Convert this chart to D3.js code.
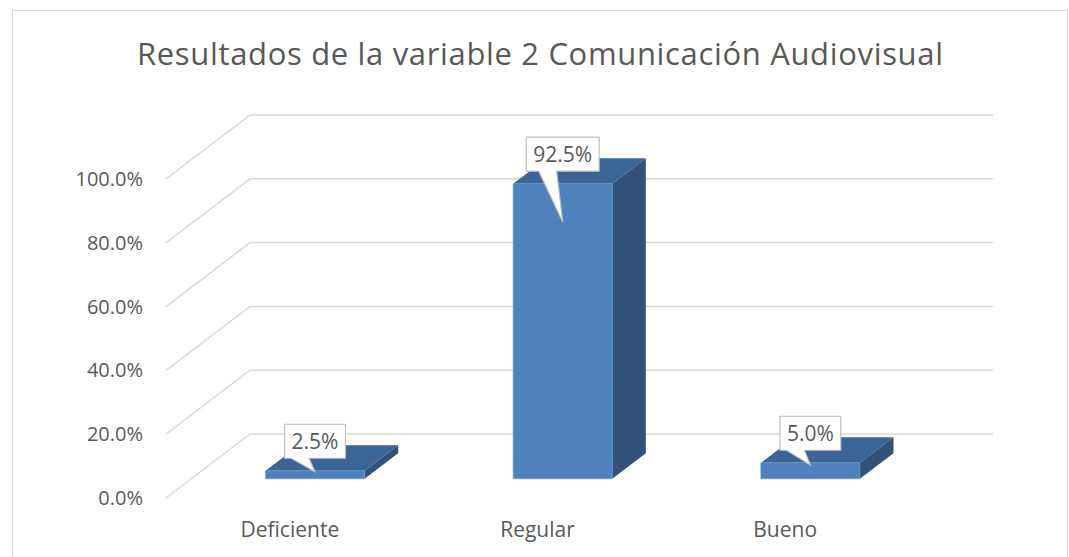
<!DOCTYPE html>
<html>
<head>
<meta charset="utf-8">
<script src="https://cdn.jsdelivr.net/npm/d3@7"></script>
<style>
  body { margin: 0; background: #fff; }
  svg { display: block; font-family: "Open Sans", sans-serif; }
</style>
</head>
<body>
<div id="chart"></div>
<script>
// chart data
const categories = ['Deficiente', 'Regular', 'Bueno'];
const values = [2.5, 92.5, 5.0];
const yTicks = [0, 20, 40, 60, 80, 100];
const title = 'Resultados de la variable 2 Comunicación Audiovisual';

const width = 1069;
const height = 557;

const textColor = '#595959';
const gridColor = '#d9d9d9';

// depth of the 3d floor (back wall -> front edge)
const depthX = -84;
const depthY = 64;
// bars sit between these depth fractions (0 = front, 1 = back)
const zFront = 0.3;
const zBack = 0.7;

const svg = d3.select('#chart')
    .append('svg')
    .attr('width', width)
    .attr('height', height);

// chart frame
svg.append('rect')
    .attr('x', 12.5)
    .attr('y', 10.5)
    .attr('width', 1055)
    .attr('height', 600)
    .attr('fill', '#fff')
    .attr('stroke', gridColor)
    .attr('stroke-width', 1);

svg.append('text')
    .attr('x', 540)
    .attr('y', 65)
    .attr('text-anchor', 'middle')
    .attr('fill', textColor)
    .attr('textLength', 806)
    .attr('lengthAdjust', 'spacing')
    .style('font-size', '31px')
    .text(title);

// scales on the back wall
const x = d3.scaleBand().domain(categories).range([250, 993]);
const y = d3.scaleLinear().domain([0, 100]).range([434, 115]);

// project a point of the back wall plane forward to depth z
function project(xb, v, z) {
    return [xb + (1 - z) * depthX, y(v) + (1 - z) * depthY];
}

// gridlines: diagonal on the side wall + horizontal on the back wall
const grid = svg.append('g').attr('class', 'grid');
yTicks.forEach(t => {
    const front = project(x.range()[0], t, 0);
    grid.append('polyline')
        .attr('points', [front, [x.range()[0], y(t)], [x.range()[1], y(t)]].map(p => p.join(',')).join(' '))
        .attr('fill', 'none')
        .attr('stroke', gridColor)
        .attr('stroke-width', 1.5);

    grid.append('text')
        .attr('x', 143)
        .attr('y', front[1])
        .attr('dy', '0.35em')
        .attr('text-anchor', 'end')
        .attr('fill', textColor)
        .style('font-size', '20px')
        .text(d3.format('.1f')(t) + '%');
});

// category labels at the front edge of the floor
svg.append('g').selectAll('text')
    .data(categories)
    .enter()
    .append('text')
    .attr('x', d => project(x(d) + x.bandwidth() / 2, 0, 0)[0])
    .attr('y', 537)
    .attr('text-anchor', 'middle')
    .attr('fill', textColor)
    .style('font-size', '21px')
    .text(d => d);

// 3d bars
const barW = x.bandwidth() * 0.4;
const poly = pts => pts.map(p => p.join(',')).join(' ');

const bars = svg.append('g').attr('class', 'bars');
categories.forEach((c, i) => {
    const v = values[i];
    const cx = x(c) + x.bandwidth() / 2;
    const x0 = cx - barW / 2;
    const x1 = cx + barW / 2;
    const g = bars.append('g');

    // top
    g.append('polygon')
        .attr('points', poly([project(x0, v, zFront), project(x1, v, zFront), project(x1, v, zBack), project(x0, v, zBack)]))
        .attr('fill', '#3b6497');
    // side
    g.append('polygon')
        .attr('points', poly([project(x1, 0, zFront), project(x1, v, zFront), project(x1, v, zBack), project(x1, 0, zBack)]))
        .attr('fill', '#32527c');
    // front
    g.append('polygon')
        .attr('points', poly([project(x0, 0, zFront), project(x0, v, zFront), project(x1, v, zFront), project(x1, 0, zFront)]))
        .attr('fill', '#4f81bd')
        .attr('stroke', '#6f97c9')
        .attr('stroke-width', 0.6);
});

// callout data labels
const labels = svg.append('g').attr('class', 'labels');
categories.forEach((c, i) => {
    const v = values[i];
    const cx = x(c) + x.bandwidth() / 2;
    const front = project(cx, v, zFront);
    const backTop = project(cx, v, zBack)[1];
    const frontH = project(cx, 0, zFront)[1] - front[1];

    const txt = labels.append('text')
        .attr('x', front[0])
        .attr('text-anchor', 'middle')
        .attr('fill', textColor)
        .style('font-size', '21px')
        .text(d3.format('.1f')(v) + '%');
    const tw = txt.node().getComputedTextLength();

    const bw = tw + 14;
    const bh = 34;
    const bx = front[0] - bw / 2;
    const by = backTop - 21;
    const tipX = front[0];
    const tipY = front[1] + frontH * 0.13;
    const bb = by + bh;

    const path = d3.path();
    path.moveTo(bx, by);
    path.lineTo(bx + bw, by);
    path.lineTo(bx + bw, bb);
    path.lineTo(front[0] - 6, bb);
    path.lineTo(tipX, Math.max(tipY, bb + 10));
    path.lineTo(front[0] - 24, bb);
    path.lineTo(bx, bb);
    path.closePath();

    labels.insert('path', () => txt.node())
        .attr('d', path.toString())
        .attr('fill', '#fff')
        .attr('stroke', '#bfbfbf')
        .attr('stroke-width', 1.2);

    txt.attr('y', by + bh / 2).attr('dy', '0.36em');
});
</script>
</body>
</html>
